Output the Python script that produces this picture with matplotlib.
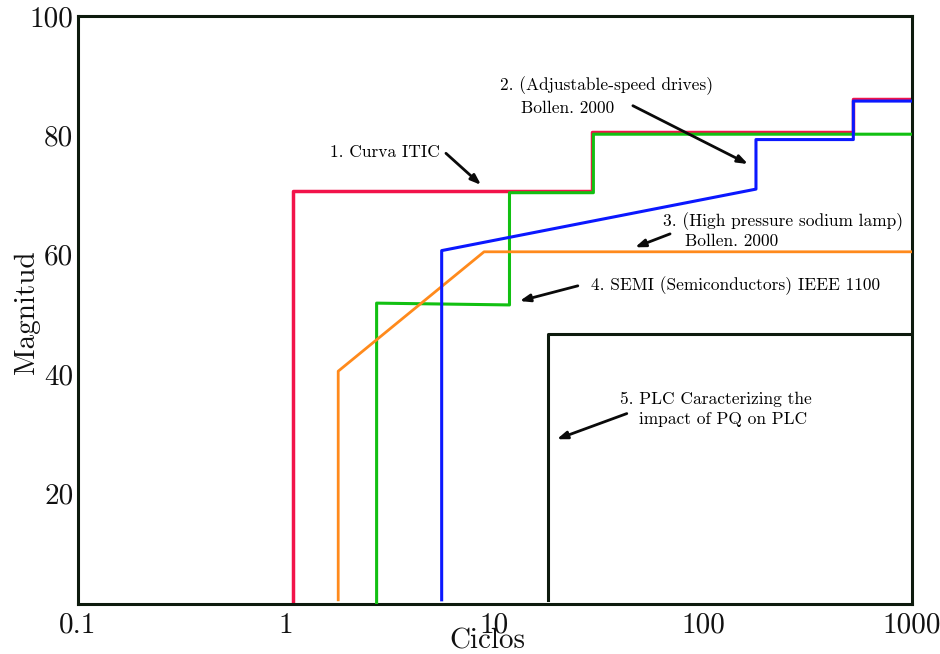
import matplotlib
matplotlib.use("Agg")
import matplotlib.pyplot as plt
from matplotlib.ticker import FixedLocator, FixedFormatter, NullLocator

plt.rcParams['font.family'] = ['cmr10', 'DejaVu Serif']
plt.rcParams['axes.formatter.use_mathtext'] = True

# ---- data (cycles vs magnitude) ----
red_x = [1.08, 1.08, 29.2, 29.2, 522, 522, 1000]
red_y = [1.7, 70.7, 70.7, 80.6, 80.6, 86.1, 86.1]
green_x = [2.72, 2.72, 11.8, 11.8, 29.8, 29.8, 1000]
green_y = [1.5, 51.9, 51.6, 70.4, 70.4, 80.2, 80.2]
blue_x = [5.58, 5.58, 179.5, 179.5, 526, 526, 1000]
blue_y = [2.2, 60.7, 71.0, 79.3, 79.3, 85.75, 85.75]
orange_x = [1.78, 1.78, 8.91, 1000]
orange_y = [2.2, 40.5, 60.5, 60.5]
black_x = [18.0, 18.0, 1000]
black_y = [2.2, 46.8, 46.8]

x_ticks = [0.1, 1, 10, 100, 1000]
x_ticklabels = ['0.1', '1', '10', '100', '1000']
y_ticks = [20, 40, 60, 80, 100]
y_ticklabels = ['20', '40', '60', '80', '100']

frame_color = '#0d1a0d'

fig = plt.figure(figsize=(9.4, 6.54), dpi=100)
ax = fig.add_axes([77.5/940, 50/654, (911.5-77.5)/940, (604-16)/654])

ax.plot(green_x, green_y, color='#12c012', lw=2.2, zorder=3)
ax.plot(orange_x, orange_y, color='#ff8a1c', lw=2.0, zorder=4)
ax.plot(blue_x, blue_y, color='#0b18ff', lw=2.2, zorder=5)
ax.plot(red_x, red_y, color='#f2134a', lw=2.5, zorder=2)
ax.plot(black_x, black_y, color=frame_color, lw=2.2, zorder=5)

ax.set_xscale('log')
ax.set_xlim(0.1, 1000)
ax.set_ylim(1.5, 100)

ax.xaxis.set_major_locator(FixedLocator(x_ticks))
ax.xaxis.set_major_formatter(FixedFormatter(x_ticklabels))
ax.xaxis.set_minor_locator(NullLocator())
ax.yaxis.set_major_locator(FixedLocator(y_ticks))
ax.yaxis.set_major_formatter(FixedFormatter(y_ticklabels))
ax.tick_params(axis='both', length=0, labelsize=21, colors='#111111')
ax.tick_params(axis='x', pad=6)
ax.tick_params(axis='y', pad=3)

for sp in ax.spines.values():
    sp.set_color(frame_color)
    sp.set_linewidth(2.2)

ax.set_xlabel('Ciclos', fontsize=21, color='#111111')
ax.xaxis.set_label_coords(0.492, -0.041)
ax.set_ylabel('Magnitud', fontsize=21, color='#111111', va='center')
ax.yaxis.set_label_coords(-0.0606, 0.497)

ann_fs = 12.5
arrow_kw = dict(arrowstyle='-|>,head_width=0.22,head_length=0.6', color='#0a0a0a', lw=2.0,
                shrinkA=0, shrinkB=0)

# 1
ax.text(5.48, 77.1, '1. Curva ITIC', ha='right', va='center', fontsize=ann_fs)
ax.annotate('', xy=(8.62, 71.7), xytext=(5.85, 77.0), arrowprops=arrow_kw)
# 2
ax.text(10.6, 88.3, '2. (Adjustable-speed drives)', ha='left', va='center', fontsize=ann_fs)
ax.text(13.4, 84.6, 'Bollen. 2000', ha='left', va='center', fontsize=ann_fs)
ax.annotate('', xy=(164.4, 75.2), xytext=(46.1, 84.97), arrowprops=arrow_kw)
# 3
ax.text(64.3, 65.5, '3. (High pressure sodium lamp)', ha='left', va='center', fontsize=ann_fs)
ax.text(82.0, 62.3, 'Bollen. 2000', ha='left', va='center', fontsize=ann_fs)
ax.annotate('', xy=(47.2, 61.25), xytext=(69.5, 63.5), arrowprops=arrow_kw)
# 4
ax.text(29.0, 54.8, '4. SEMI (Semiconductors) IEEE 1100', ha='left', va='center', fontsize=ann_fs)
ax.annotate('', xy=(13.2, 52.25), xytext=(25.1, 54.8), arrowprops=arrow_kw)
# 5
ax.text(40.0, 35.8, '5. PLC Caracterizing the', ha='left', va='center', fontsize=ann_fs)
ax.text(49.3, 32.5, 'impact of PQ on PLC', ha='left', va='center', fontsize=ann_fs)
ax.annotate('', xy=(19.9, 29.1), xytext=(43.1, 33.4), arrowprops=arrow_kw)

fig.savefig('out.png', dpi=100)
